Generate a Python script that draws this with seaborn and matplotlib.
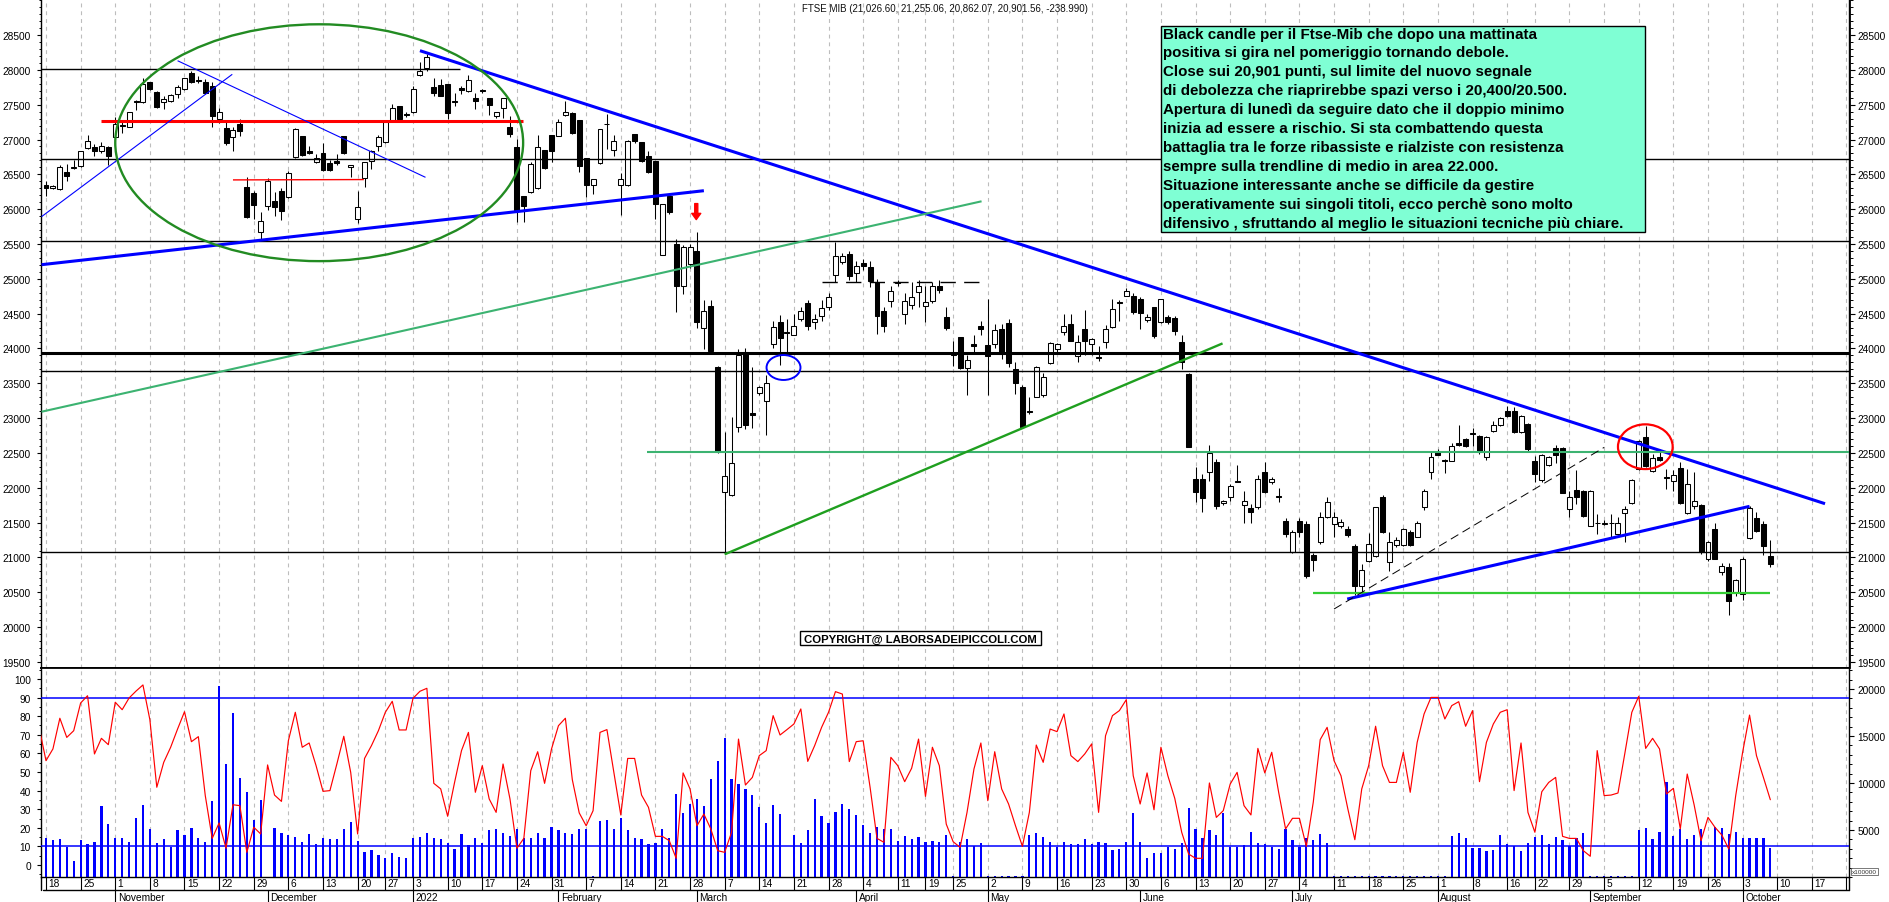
import numpy as np
import pandas as pd
import matplotlib
matplotlib.use("Agg")
import matplotlib.pyplot as plt
import seaborn as sns
from matplotlib.patches import Ellipse, Rectangle
from matplotlib.ticker import MultipleLocator, FixedLocator

sns.set_theme(style="white")
plt.rcParams["font.family"] = ["Liberation Sans", "DejaVu Sans"]
plt.rcParams["axes.edgecolor"] = "black"
plt.rcParams["text.color"] = "black"
plt.rcParams["xtick.color"] = "black"
plt.rcParams["ytick.color"] = "black"

# ---------------- data ----------------
HOLIDAYS = ["2021-12-24", "2021-12-31", "2022-04-15", "2022-04-18", "2022-08-15"]
trading_days = pd.bdate_range("2021-10-18", "2022-11-04", freq="C", holidays=HOLIDAYS)

OPEN = [
    26340, 26300, 26290, 26540, 26600, 26615, 26880, 26890, 26840, 26890,
    27030, 27215, 27185, 27550, 27535, 27825, 27680, 27535, 27550, 27655,
    27725, 27955, 27855, 27830, 27773, 27295, 27160, 27030, 27220, 26313,
    26227, 25667, 26040, 26120, 26255, 26170, 26745, 27055, 26830, 26672,
    26806, 26663, 26686, 27045, 26600, 25860, 26447, 26686, 26911, 26960,
    27285, 27475, 27360, 27390, 27920, 28025, 27750, 27782, 27797, 27555,
    27735, 27690, 27600, 27710, 27590, 27342, 27450, 27185, 26890, 26195,
    26240, 26300, 26855, 27065, 27055, 27350, 27380, 27285, 26735, 26350,
    26660, 27225, 26855, 26350, 26350, 27080, 26960, 26770, 26686, 25335,
    26195, 25500, 24900, 25210, 25404, 24290, 24605, 23730, 21935, 21900,
    22880, 23945, 23070, 23360, 23245, 24064, 24384, 24240, 24195, 24423,
    24650, 24375, 24460, 24590, 25055, 25237, 25356, 25084, 25222, 25165,
    24950, 24543, 24687, 24950, 24495, 24620, 24805, 24615, 24687, 24890,
    24447, 23930, 24160, 23715, 24060, 24320, 24050, 24065, 24280, 24365,
    23705, 23445, 23100, 23300, 23335, 23790, 23990, 24240, 24350, 23895,
    24280, 24060, 23875, 24100, 24304, 24663, 24760, 24760, 24710, 24413,
    24590, 24375, 24447, 24433, 24090, 23633, 22125, 22125, 22230, 22365,
    21785, 21865, 22100, 21760, 21710, 21720, 22230, 22090, 21885, 21525,
    21085, 21520, 21480, 21040, 21216, 21575, 21480, 21445, 21415, 21160,
    20585, 20955, 21025, 21865, 20930, 21180, 21175, 21370, 21300, 21720,
    22225, 22510, 22400, 22390, 22640, 22700, 22790, 22750, 22440, 22820,
    22900, 23100, 23100, 22795, 22915, 22380, 22105, 22325, 22570, 22565,
    21695, 21970, 21960, 21455, 21500, 21480, 21500, 21330, 21640, 21785,
    22270, 22725, 22245, 22445, 22150, 22095, 22280, 21640, 21735, 21755,
    20975, 21405, 20790, 20860, 20500, 20475, 21285, 21560, 21475, 21026.60,
]
HIGH = [
    26410, 26350, 26640, 26650, 26700, 26840, 27070, 26940, 26960, 26910,
    27320, 27270, 27400, 27560, 27880, 27825, 27690, 27630, 27650, 27785,
    27890, 27990, 27905, 27870, 27820, 27450, 27245, 27175, 27300, 26457,
    26265, 25955, 26445, 26240, 26300, 26545, 27170, 27055, 26910, 26790,
    26950, 26700, 26790, 27055, 26640, 26265, 26680, 26855, 27065, 27270,
    27510, 27475, 27390, 27765, 28110, 28227, 27880, 27870, 27797, 27670,
    27765, 27925, 27670, 27725, 27590, 27390, 27590, 27340, 27010, 26195,
    26670, 27065, 26855, 27065, 27295, 27555, 27390, 27285, 26735, 26435,
    27150, 27365, 27065, 26520, 26995, 27080, 26960, 26840, 26686, 26075,
    26195, 25572, 25480, 25500, 25670, 24700, 24700, 23750, 22800, 23010,
    23990, 24000, 23730, 23460, 23620, 24400, 24480, 24420, 24500, 24600,
    24700, 24500, 24700, 24790, 25533, 25370, 25400, 25260, 25280, 25260,
    25000, 24600, 24900, 24980, 24800, 24950, 24980, 24900, 24950, 24990,
    24600, 24110, 24160, 23900, 24200, 24400, 24710, 24350, 24350, 24420,
    23800, 23480, 23300, 23750, 23650, 24100, 24080, 24500, 24500, 24200,
    24550, 24150, 24040, 24330, 24710, 24700, 24870, 24790, 24740, 24500,
    24600, 24710, 24480, 24460, 24200, 23650, 22300, 22200, 22620, 22420,
    21830, 22050, 22330, 21950, 21770, 22180, 22370, 22150, 22000, 21570,
    21400, 21570, 21520, 21060, 21650, 21865, 21650, 21550, 21450, 21200,
    20900, 21350, 21720, 21900, 21360, 21300, 21430, 21400, 21520, 21990,
    22510, 22560, 22410, 22640, 22900, 22710, 22860, 22760, 22740, 22960,
    23010, 23180, 23160, 23040, 22930, 22460, 22480, 22460, 22620, 22580,
    21950, 22250, 21970, 21970, 21630, 21540, 21620, 21580, 21740, 22120,
    22680, 22890, 22480, 22560, 22270, 22250, 22370, 22270, 22225, 21770,
    21240, 21500, 20920, 20920, 20690, 21000, 21734, 21650, 21530, 21255.06,
]
LOW = [
    26190, 26290, 26280, 26410, 26580, 26600, 26870, 26770, 26805, 26640,
    26980, 27100, 27175, 27430, 27525, 27715, 27450, 27440, 27535, 27600,
    27715, 27810, 27810, 27650, 27185, 27240, 26925, 26830, 27055, 25875,
    25860, 25562, 25990, 25905, 25850, 26160, 26735, 26770, 26790, 26660,
    26553, 26543, 26640, 26790, 26457, 25800, 26313, 26575, 26840, 26950,
    27270, 27285, 27330, 27380, 27910, 27990, 27630, 27620, 27295, 27475,
    27660, 27680, 27440, 27670, 27350, 27310, 27310, 27030, 25820, 25820,
    26230, 26290, 26575, 26670, 27045, 27340, 27085, 26530, 26170, 26215,
    26650, 26865, 26770, 25915, 26335, 26950, 26670, 26520, 25860, 25335,
    25930, 24530, 24780, 25150, 24300, 23990, 23950, 22500, 21070, 21880,
    22800, 22850, 22860, 23330, 22760, 24000, 23760, 23900, 24190, 24400,
    24260, 24280, 24400, 24550, 24950, 25220, 24990, 24950, 25120, 24880,
    24210, 24230, 24600, 24900, 24350, 24560, 24600, 24380, 24650, 24800,
    24270, 23750, 23700, 23335, 23950, 24200, 23330, 24000, 23850, 23740,
    23350, 22870, 23060, 23300, 23300, 23780, 23950, 24200, 24110, 23800,
    23900, 23900, 23825, 24000, 24300, 24400, 24750, 24500, 24280, 24380,
    24150, 24370, 24350, 24200, 23700, 22580, 21800, 21650, 22100, 21700,
    21750, 21810, 22080, 21500, 21500, 21700, 21930, 22050, 21800, 21300,
    21070, 21300, 20700, 20800, 21200, 21560, 21300, 21420, 21300, 20460,
    20510, 20940, 21010, 21350, 20800, 21150, 21160, 21170, 21290, 21680,
    22130, 22470, 22210, 22380, 22600, 22580, 22600, 22480, 22400, 22800,
    22890, 23020, 22780, 22790, 22530, 22090, 22090, 22310, 22350, 21920,
    21580, 21770, 21580, 21450, 21340, 21460, 21300, 21320, 21220, 21770,
    22250, 22300, 22230, 22380, 21990, 21950, 21770, 21630, 21700, 21050,
    20950, 20980, 20750, 20180, 20450, 20390, 21270, 21360, 21040, 20862.07,
]
CLOSE = [
    26300, 26330, 26600, 26470, 26605, 26830, 26980, 26830, 26900, 26770,
    27220, 27190, 27390, 27535, 27800, 27725, 27460, 27585, 27640, 27750,
    27880, 27820, 27850, 27667, 27342, 27390, 26950, 27135, 27115, 25883,
    26063, 25825, 26400, 26025, 25970, 26520, 27150, 26777, 26800, 26730,
    26567, 26567, 26662, 26800, 26640, 26025, 26672, 26840, 27030, 27245,
    27450, 27295, 27355, 27725, 27990, 28180, 27667, 27630, 27380, 27540,
    27710, 27860, 27555, 27700, 27495, 27390, 27590, 27080, 25995, 26050,
    26650, 26890, 26585, 26830, 27245, 27400, 27095, 26620, 26350, 26435,
    27150, 27220, 26985, 26435, 26985, 26985, 26685, 26530, 26075, 26075,
    25955, 24900, 25460, 25450, 24384, 24543, 23968, 22520, 22174, 22360,
    23906, 22900, 23050, 23440, 23510, 24303, 24146, 24220, 24320, 24543,
    24320, 24423, 24580, 24735, 25323, 25323, 25036, 25180, 25190, 24974,
    24471, 24320, 24830, 24940, 24687, 24740, 24900, 24665, 24900, 24845,
    24290, 23910, 23715, 23840, 24040, 24280, 23890, 24260, 23920, 23785,
    23500, 22870, 23085, 23740, 23590, 24075, 24060, 24328, 24110, 24096,
    24110, 24130, 23865, 24280, 24570, 24650, 24830, 24520, 24510, 24447,
    24184, 24710, 24380, 24255, 23805, 22580, 21935, 21860, 22495, 21745,
    21815, 22030, 22095, 21810, 21650, 22125, 21945, 22125, 21875, 21335,
    21370, 21370, 20740, 20960, 21575, 21790, 21575, 21510, 21320, 20585,
    20825, 21195, 21720, 21370, 21215, 21255, 21405, 21180, 21500, 21960,
    22440, 22475, 22390, 22605, 22620, 22605, 22780, 22510, 22725, 22895,
    22995, 23025, 22795, 23030, 22555, 22200, 22465, 22445, 22475, 21925,
    21865, 21865, 21590, 21960, 21490, 21500, 21490, 21490, 21695, 22105,
    22675, 22320, 22425, 22400, 22140, 22190, 21785, 22055, 21815, 21075,
    21225, 20985, 20875, 20380, 20670, 20985, 21705, 21380, 21170, 20901.56,
]
VOLUME = [
    4186, 3900, 4080, 3230, 1700, 3900, 3480, 3760, 7560, 5680,
    4186, 4186, 3760, 6320, 7630, 5070, 3650, 4080, 3230, 4970,
    4470, 5180, 4186, 3760, 8100, 20280, 12000, 17400, 10580, 9090,
    6030, 8170, 0, 5250, 4720, 4470, 4290, 3760, 4540, 3550,
    4120, 4080, 4080, 5150, 5860, 3830, 2660, 2870, 2300, 2060,
    2520, 2160, 2060, 4190, 4290, 4720, 4190, 4010, 3650, 2940,
    4610, 3400, 4190, 3580, 5000, 5070, 4720, 4360, 5070, 4120,
    4190, 4720, 4190, 5360, 4970, 4720, 4540, 5150, 5070, 60,
    5960, 6030, 5070, 6320, 4970, 4190, 4080, 3480, 3650, 5070,
    4190, 8810, 6780, 7740, 8340, 7560, 10400, 12290, 14840, 10400,
    9940, 9410, 8700, 7490, 5710, 7630, 6670, 0, 4430, 3650,
    4970, 8270, 6490, 5710, 6960, 7740, 7210, 6560, 5500, 4650,
    5320, 5150, 5150, 3830, 4360, 4080, 4290, 3720, 3830, 3720,
    4470, 60, 3720, 4080, 3300, 3650, 60, 60, 60, 60,
    60, 60, 4430, 4720, 4290, 3720, 3230, 3720, 3480, 3550,
    4080, 3550, 3720, 3650, 2870, 2940, 3720, 6780, 3720, 2060,
    2520, 2590, 3230, 2940, 3650, 7390, 5150, 4190, 5000, 4430,
    6780, 3230, 3230, 3400, 4830, 3650, 3550, 3230, 2940, 5150,
    3940, 3230, 4190, 3940, 4610, 3650, 60, 60, 60, 60,
    60, 60, 60, 60, 60, 60, 60, 60, 60, 60,
    60, 60, 60, 4360, 4720, 4190, 3120, 3120, 2760, 2870,
    4430, 3550, 3300, 2760, 3650, 4260, 4430, 3550, 4290, 3940,
    3300, 4190, 4720, 60, 60, 60, 60, 60, 60, 60,
    5000, 5180, 4010, 4790, 10120, 4360, 5070, 4080, 4430, 5150,
    0, 5360, 5180, 4540, 4790, 4120, 4190, 4190, 4120, 3120,
]
# oscillator, first value belongs to the session before the first candle
OSC_A = [
    74.0,
    56.1, 62.4, 78.9, 68.6, 72.2, 87.1, 91.0, 59.7, 68.1, 64.7,
    87.5, 83.5, 89.8, 93.5, 96.8, 78.1, 41.8, 55.2, 63.3, 73.1,
    82.4, 66.3, 69.0, 37.3, 14.3, 22.6, 9.0, 32.4, 31.9, 6.8,
    20.3, 16.7, 53.8, 37.6, 34.2, 66.8, 82.1, 63.3, 65.6, 53.4,
    39.6, 40.0, 54.3, 69.2, 49.8, 16.7, 57.3, 64.2, 72.2, 82.1,
    88.0, 72.6, 72.6, 89.6, 93.4, 95.0, 43.9, 40.9, 26.2, 44.4,
    61.5, 71.3, 39.1, 53.4, 35.5, 28.3, 54.3, 35.5, 9.0, 14.3,
    50.7, 60.9, 43.9, 62.4, 74.9, 78.9, 45.9, 28.0, 21.1, 29.2,
    71.3, 72.8, 49.8, 26.9, 57.3, 57.3, 37.6, 31.0, 15.4, 15.4,
    13.1, 3.6, 49.5, 40.9, 21.1,
]
OSC_B = [
    27.4, 19.4, 7.7, 6.8, 17.6,
    67.7, 43.0, 47.1, 58.8, 61.5, 80.3, 69.9, 72.8, 75.8, 83.9,
    55.7, 64.2, 74.0, 82.1, 93.2, 91.9, 55.6, 66.3, 66.8, 41.8,
    14.3, 12.2, 57.9, 53.4, 44.8, 52.0, 67.7, 36.9, 63.3, 53.4,
    22.0, 12.5, 9.5, 28.3, 51.6, 65.6, 34.6, 60.9, 40.9, 32.8,
    21.1, 10.0, 28.3, 64.5, 55.2, 73.1, 71.7, 81.2, 58.8, 55.6,
    59.7, 65.1, 28.3, 69.5, 80.3, 83.0, 88.9, 48.0, 32.8, 49.5,
    29.7, 63.3, 48.0, 35.8, 17.6, 5.9, 3.6, 3.6, 44.1, 25.6,
    29.2, 43.5, 49.8, 31.9, 26.9, 62.7, 49.5, 60.6, 39.1, 19.4,
    25.1, 25.1, 10.0, 33.8, 67.4, 74.0, 56.1, 48.0, 30.0,
]
OSC_C = [
    13.6,
    40.9, 53.4, 74.6, 53.4, 44.4, 44.4, 60.6, 39.1, 65.9, 81.2,
    90.1, 90.1, 78.5, 85.7, 87.8, 74.6, 83.0, 44.8, 65.9, 75.8,
    82.1, 83.5, 40.0, 65.6, 28.3, 17.6, 39.4, 44.4, 47.1, 15.4,
    14.3, 14.3, 7.7, 4.7, 61.5, 37.3, 37.6, 38.7, 60.2, 82.1,
    90.7, 62.7, 68.1, 62.4, 38.2, 41.2, 19.4, 48.9, 32.3, 13.1,
    25.6, 20.3, 16.1, 8.6, 37.3, 60.6, 80.6, 58.8, 47.1, 35.1,
]
OSC_LEVELS = [90, 10]
PRICE_TICKS = list(range(19500, 29000, 500))
OSC_TICKS = list(range(0, 101, 10))
VOLUME_TICKS = [5000, 10000, 15000, 20000]

# drawn annotations: (session0, value0, session1, value1, colour, width, style)
TRENDLINES = [
    (-0.65, 28008, 59.8, 28008, "black", 1.0, "-"),
    (-0.65, 26716, 260.5, 26716, "black", 1.0, "-"),
    (-0.65, 25538, 260.5, 25538, "black", 1.0, "-"),
    (-0.65, 23939, 260.5, 23939, "black", 2.2, "-"),
    (-0.65, 23672, 260.5, 23672, "black", 1.0, "-"),
    (-0.65, 21073, 260.5, 21073, "black", 1.0, "-"),
    (8.0, 27265, 68.9, 27265, "#ff0000", 2.2, "-"),
    (27.0, 26420, 45.9, 26425, "#ff0000", 1.0, "-"),
    (-0.65, 25892, 26.9, 27936, "#0000ff", 0.8, "-"),
    (19.0, 28131, 54.8, 26457, "#0000ff", 0.8, "-"),
    (-0.65, 25203, 95.0, 26265, "#0000ff", 2.2, "-"),
    (54.0, 28275, 256.9, 21772, "#0000ff", 2.2, "-"),
    (-0.65, 23092, 135.1, 26113, "#3cb371", 1.5, "-"),
    (86.8, 22514, 260.5, 22514, "#3cb371", 1.5, "-"),
    (98.0, 21045, 169.9, 24073, "#1f9f1f", 1.7, "-"),
    (183.0, 20484, 249.0, 20484, "#33cc33", 1.6, "-"),
    (187.9, 20403, 246.0, 21734, "#0000ff", 2.2, "-"),
    (186.0, 20260, 225.0, 22580, "black", 0.7, (0, (9, 5))),
    (112.0, 24950, 135.0, 24950, "black", 1.0, (0, (11, 6))),
]
# ellipses: (centre session, centre value, width sessions, height value, colour, width)
ELLIPSES = [
    (39.45, 26954, 58.9, 3400, "#228b22", 1.7),
    (230.95, 22590, 7.9, 642, "#ff0000", 1.6),
    (106.5, 23727, 4.9, 358, "#0000ff", 1.4),
]
ARROW = (93.9, 26080, 25850)

TITLE = "FTSE MIB (21,026.60, 21,255.06, 20,862.07, 20,901.56, -238.990)"
NOTE_LINES = [
    "Black candle per il Ftse-Mib che dopo una mattinata",
    "positiva si gira nel pomeriggio tornando debole.",
    "Close sui 20,901 punti, sul limite del nuovo segnale",
    "di debolezza che riaprirebbe spazi verso i 20,400/20.500.",
    "Apertura di lunedì da seguire dato che il doppio minimo",
    "inizia ad essere a rischio. Si sta combattendo questa",
    "battaglia tra le forze ribassiste e rialziste con resistenza",
    "sempre sulla trendline di medio in area 22.000.",
    "Situazione interessante anche se difficile da gestire",
    "operativamente sui singoli titoli, ecco perchè sono molto",
    "difensivo , sfruttando al meglio le situazioni tecniche più chiare.",
]
COPYRIGHT = "COPYRIGHT@ LABORSADEIPICCOLI.COM"

# ---------------- layout ----------------
W, H = 1890, 903
X0_PX, PX_PER_SESSION = 46.0, 6.925
LEFT_PX, RIGHT_PX = 41.5, 1849.5
XLIM = ((LEFT_PX - X0_PX) / PX_PER_SESSION, (RIGHT_PX - X0_PX) / PX_PER_SESSION)
TICK_FS = 7.3
GRID_KW = dict(color="#bdbdbd", lw=0.8, ls=(0, (3.5, 3.5)), zorder=0)

fig = plt.figure(figsize=(W / 100, H / 100), dpi=100)


def frect(x0, y0, x1, y1):
    return [x0 / W, 1 - y1 / H, (x1 - x0) / W, (y1 - y0) / H]


ax = fig.add_axes(frect(LEFT_PX, 0, RIGHT_PX, 669.3))
axv = fig.add_axes(frect(LEFT_PX, 669.3, RIGHT_PX, 878))
axd = fig.add_axes(frect(LEFT_PX, 878, RIGHT_PX, 903))

n_days = len(trading_days)
wk = trading_days.to_period("W")
mo = trading_days.to_period("M")
week_starts = [i for i in range(n_days) if i == 0 or wk[i] != wk[i - 1]]
month_starts = [i for i in range(1, n_days) if mo[i] != mo[i - 1]]
week_starts = [i for i in week_starts if i <= XLIM[1]]
month_starts = [i for i in month_starts if i <= XLIM[1]]

# ---------------- main price panel ----------------
o, h, l, c = (np.asarray(a, dtype=float) for a in (OPEN, HIGH, LOW, CLOSE))
xi = np.arange(len(c))
for i in week_starts:
    ax.axvline(i, **GRID_KW)
ax.vlines(xi, l, h, colors="black", lw=0.75, zorder=3)
lo, hi = np.minimum(o, c), np.maximum(o, c)
min_h = 14
bh = np.maximum(hi - lo, min_h)
bb = np.where(hi - lo < min_h, (lo + hi) / 2 - min_h / 2, lo)
face = np.where(c >= o, "white", "black")
ax.bar(xi, bh, bottom=bb, width=0.72, color=face, edgecolor="black",
       linewidth=0.75, zorder=4)

for x0, y0, x1, y1, col, lw, ls in TRENDLINES:
    ax.plot([x0, x1], [y0, y1], color=col, lw=lw, ls=ls, zorder=5,
            solid_capstyle="butt", clip_on=True)
for cx, cy, ew, eh, col, lw in ELLIPSES:
    ax.add_patch(Ellipse((cx, cy), ew, eh, fill=False, edgecolor=col, lw=lw, zorder=6))
ax.annotate("", xy=(ARROW[0], ARROW[2]), xytext=(ARROW[0], ARROW[1]),
            arrowprops=dict(arrowstyle="simple,head_length=0.45,head_width=0.65,tail_width=0.22",
                            color="red", shrinkA=0, shrinkB=0, mutation_scale=10), zorder=7)

ax.set_xlim(*XLIM)
ax.set_ylim(19409, 29017)
ax.set_xticks([])
ax.yaxis.set_major_locator(FixedLocator(PRICE_TICKS))
ax.yaxis.set_minor_locator(MultipleLocator(100))
ax.tick_params(axis="y", which="major", left=True, direction="out", length=3.2, width=0.8,
               labelsize=TICK_FS, pad=4.5)
ax.tick_params(axis="y", which="minor", left=True, direction="out", length=1.8, width=0.7)
for s in ("left", "right", "bottom"):
    ax.spines[s].set_color("black")
    ax.spines[s].set_linewidth(1.0)
ax.spines["bottom"].set_linewidth(1.3)
ax.spines["top"].set_visible(False)
axr = ax.secondary_yaxis("right")
axr.yaxis.set_major_locator(FixedLocator(PRICE_TICKS))
axr.yaxis.set_minor_locator(MultipleLocator(100))
axr.tick_params(axis="y", which="major", direction="out", length=3.8, width=0.8,
                labelsize=TICK_FS, pad=2)
axr.tick_params(axis="y", which="minor", direction="out", length=2.4, width=0.7)
axr.spines["right"].set_color("black")

# ---------------- lower panel: volume + oscillator ----------------
for i in week_starts:
    axv.axvline(i, **GRID_KW)
vol = np.asarray(VOLUME, dtype=float)
axv.bar(xi, vol, width=0.32, color="#0000ff", linewidth=0, zorder=2)

axo = axv.twinx()
osc = np.asarray(OSC_A + OSC_B + OSC_C, dtype=float)
osc_df = pd.DataFrame({"session": np.arange(-1, -1 + len(osc)), "osc": osc})
for lev in OSC_LEVELS:
    axo.axhline(lev, color="#0000ff", lw=1.1, zorder=3)
sns.lineplot(data=osc_df, x="session", y="osc", ax=axo, color="#ff0000", lw=0.85, zorder=4)

# volume scale on the right, oscillator scale on the left
axv.set_xlim(*XLIM)
axv.set_ylim(0, 22207)
axv.set_xticks([])
axv.yaxis.set_label_position("right")
axv.yaxis.set_major_locator(FixedLocator(VOLUME_TICKS))
axv.yaxis.set_minor_locator(MultipleLocator(1000))
axv.tick_params(axis="y", which="both", left=False, labelleft=False, right=True, labelright=True)
axv.tick_params(axis="y", which="major", direction="out", length=3.8, width=0.8,
                labelsize=TICK_FS, pad=2)
axv.tick_params(axis="y", which="minor", direction="out", length=2.4, width=0.7)
for s in axv.spines.values():
    s.set_color("black")
    s.set_linewidth(1.0)
axv.spines["top"].set_linewidth(1.3)

axo.set_xlim(*XLIM)
axo.set_ylim(-6.45, 105.75)
axo.set_xlabel("")
axo.set_ylabel("")
axo.yaxis.set_label_position("left")
axo.yaxis.set_major_locator(FixedLocator(OSC_TICKS))
axo.yaxis.set_minor_locator(MultipleLocator(5))
axo.tick_params(axis="y", which="both", left=True, labelleft=True, right=False, labelright=False)
axo.tick_params(axis="y", which="major", direction="out", length=3.2,
                width=0.8, labelsize=TICK_FS, pad=4.5)
axo.tick_params(axis="y", which="minor", direction="out", length=1.8, width=0.7)
axo.set_xticks([])
for s in axo.spines.values():
    s.set_visible(False)
fig.text(1852 / W, 1 - 872.5 / H, "x100000", fontsize=4.6, color="#333333", va="center", ha="left",
         bbox=dict(boxstyle="square,pad=0.15", fc="white", ec="#444444", lw=0.5))

# ---------------- date band ----------------
axd.set_xlim(*XLIM)
axd.set_ylim(0, 25)
axd.axis("off")
axd.plot([XLIM[0] + 0.2, XLIM[1]], [12, 12], color="black", lw=1.0, clip_on=False)
axd.plot([XLIM[0], XLIM[0]], [12, 25], color="black", lw=1.0, clip_on=False)
axd.plot([XLIM[1], XLIM[1]], [12, 25], color="black", lw=1.0, clip_on=False)
for i in week_starts:
    axd.plot([i, i], [12, 25], color="black", lw=0.8)
    axd.text(i + 0.35, 18.6, str(trading_days[i].day), fontsize=TICK_FS, ha="left", va="center",
             clip_on=True)
for i in month_starts:
    d = trading_days[i]
    name = str(d.year) if d.month == 1 else d.strftime("%B")
    axd.plot([i, i], [0, 12], color="black", lw=0.8)
    axd.text(i + 0.35, 5.2, name, fontsize=TICK_FS, ha="left", va="center", clip_on=True)

# ---------------- texts ----------------
fig.text(945 / W, 1 - 8.7 / H, TITLE, fontsize=7.0, ha="center", va="center", color="#111111")

box = Rectangle((1161 / W, 1 - 233 / H), 484 / W, 206 / H, transform=fig.transFigure,
                facecolor="#7fffd4", edgecolor="black", lw=1.0, zorder=10)
fig.add_artist(box)
for k, line in enumerate(NOTE_LINES):
    fig.text(1163.5 / W, 1 - (38.5 + 18.95 * k) / H, line, fontsize=10.9, fontweight="bold",
             ha="left", va="baseline", zorder=11)

cbox = Rectangle((799.6 / W, 1 - 646.3 / H), 241.9 / W, 14 / H, transform=fig.transFigure,
                 facecolor="white", edgecolor="black", lw=1.0, zorder=10)
fig.add_artist(cbox)
fig.text(920.5 / W, 1 - 639.6 / H, COPYRIGHT, fontsize=8.2, fontweight="bold", ha="center",
         va="center", zorder=11)

fig.savefig("out.png", dpi=100)
